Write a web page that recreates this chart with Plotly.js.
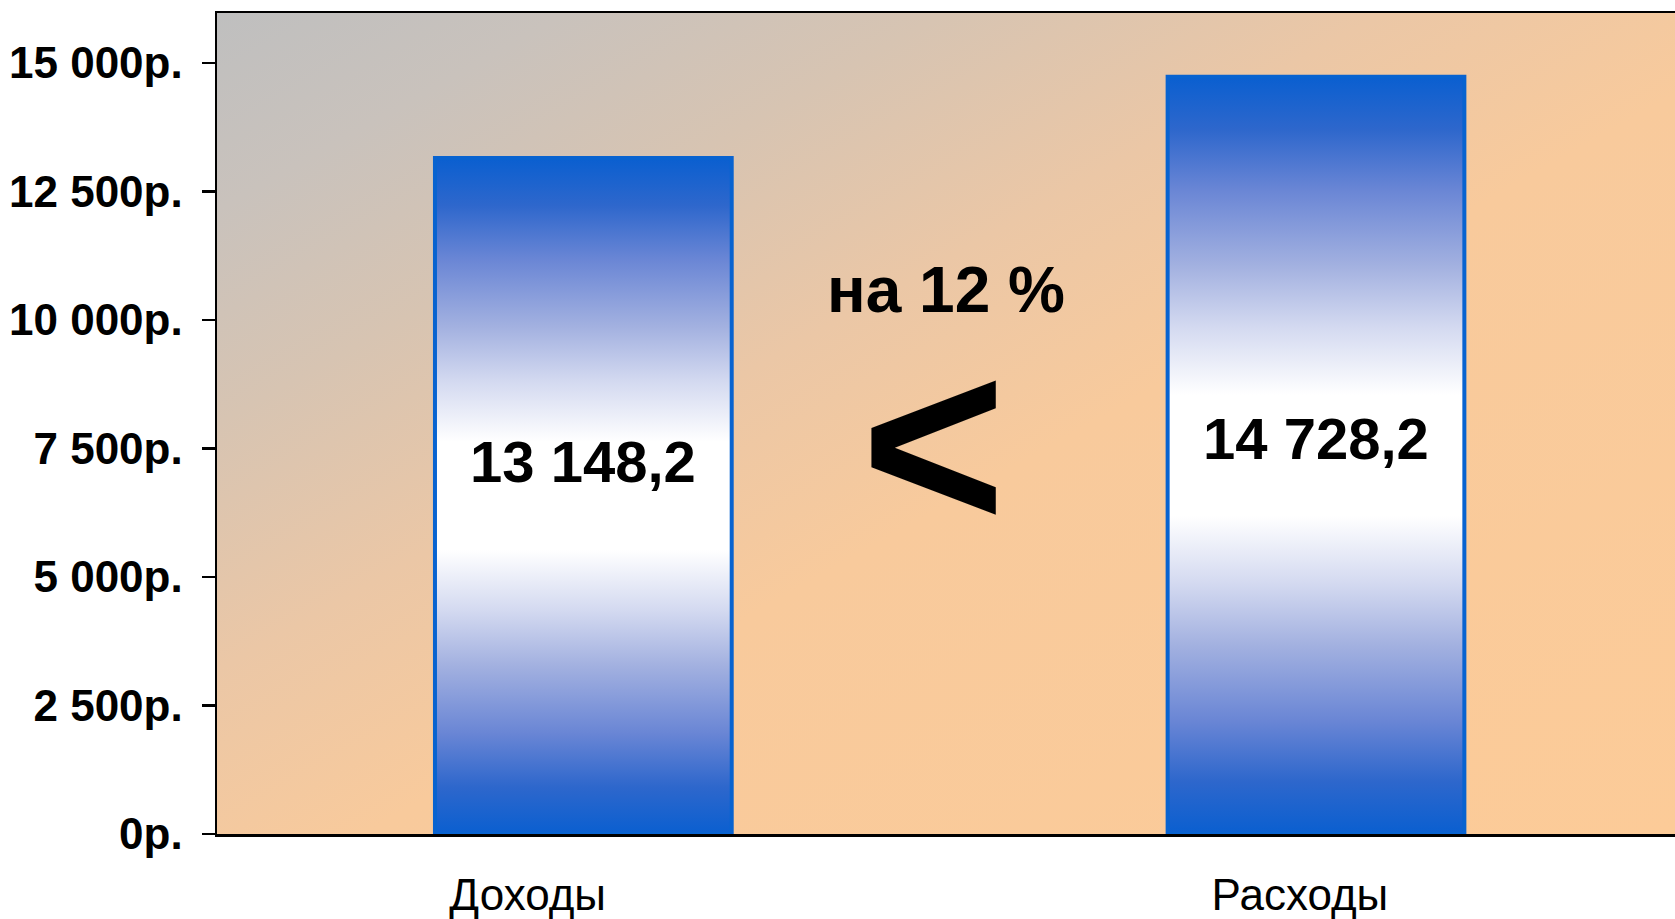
<!DOCTYPE html>
<html>
<head>
<meta charset="utf-8">
<script src="https://cdn.plot.ly/plotly-3.0.1.min.js"></script>
<style>
html, body { margin: 0; padding: 0; overflow: hidden; background: #ffffff; }
#chart { width: 1675px; height: 919px; }
</style>
</head>
<body>
<div id="chart"></div>
<script>
// ---- data ----
const categories = ['Доходы', 'Расходы'];
const values = [13148.2, 14728.2];
const valueLabels = ['13 148,2', '14 728,2'];
const yTickValues = [0, 2500, 5000, 7500, 10000, 12500, 15000];
const yTickLabels = ['0р.', '2 500р.', '5 000р.', '7 500р.', '10 000р.', '12 500р.', '15 000р.'];
const comparisonSign = '<';
const differenceLabel = 'на 12 %';

// ---- style ----
const FONT = 'Liberation Sans, Arial, sans-serif';
const BLUE = '#0863d0';
const BAR_W = 0.405;
const catLabelOffset = [-0.076, -0.022];
const valueLabelShift = [35, 17];
const barScale = [
  [0.00, '#0a5fd0'], [0.07, '#2e67cc'], [0.15, '#6a86d5'], [0.25, '#a3b1e0'],
  [0.33, '#d3d9f0'], [0.42, '#ffffff'], [0.58, '#ffffff'], [0.67, '#d3d9f0'],
  [0.75, '#a3b1e0'], [0.85, '#6a86d5'], [0.93, '#2e67cc'], [1.00, '#0a5fd0']
];

const bgSvg = "<svg xmlns='http://www.w3.org/2000/svg' width='1458' height='821' viewBox='0 0 1458 821' preserveAspectRatio='none'>" +
  "<defs><linearGradient id='g' x1='0' y1='0' x2='1' y2='1'>" +
  "<stop offset='0' stop-color='#bfbfbf'/>" +
  "<stop offset='0.12' stop-color='#c9c2bc'/>" +
  "<stop offset='0.25' stop-color='#d7c4b2'/>" +
  "<stop offset='0.4' stop-color='#ebc7a6'/>" +
  "<stop offset='0.55' stop-color='#f8ca9c'/>" +
  "<stop offset='1' stop-color='#fccb98'/>" +
  "</linearGradient></defs><rect x='0' y='0' width='1458' height='821' fill='url(#g)'/></svg>";
const bgUri = 'data:image/svg+xml;charset=utf-8,' + encodeURIComponent(bgSvg);

const xPos = categories.map((c, i) => i);

const traces = [{
  type: 'bar',
  x: xPos,
  y: values,
  width: BAR_W,
  marker: { color: BLUE, line: { color: BLUE, width: 0 } },
  hoverinfo: 'skip',
  showlegend: false
}];

xPos.forEach((p, i) => {
  const l = p - BAR_W / 2, r = p + BAR_W / 2;
  traces.push({
    type: 'scatter',
    mode: 'lines',
    x: [l, l, r, r, l],
    y: [0, values[i], values[i], 0, 0],
    fill: 'toself',
    fillgradient: { type: 'vertical', colorscale: barScale },
    line: { color: BLUE, width: 4, shape: 'linear' },
    hoverinfo: 'skip',
    showlegend: false
  });
});

const annotations = xPos.map((p, i) => ({
  x: p, y: values[i] / 2, xref: 'x', yref: 'y',
  text: valueLabels[i], showarrow: false,
  xanchor: 'center', yanchor: 'middle', yshift: valueLabelShift[i],
  font: { family: FONT, size: 58, color: '#000000', weight: 'bold' }
}));
annotations.push({
  x: 0.495, y: 10584, xref: 'x', yref: 'y', text: differenceLabel, showarrow: false,
  xanchor: 'center', yanchor: 'middle',
  font: { family: FONT, size: 64, color: '#000000', weight: 'bold' }
});
annotations.push({
  x: 0.4785, y: 7588, xref: 'x', yref: 'y', text: comparisonSign, showarrow: false,
  xanchor: 'center', yanchor: 'middle', height: 170,
  font: { family: FONT, size: 248, color: '#000000', weight: 'bold' }
});

const layout = {
  width: 1675,
  height: 919,
  margin: { l: 217, r: 0, t: 13, b: 85, pad: 0 },
  paper_bgcolor: '#ffffff',
  plot_bgcolor: 'rgba(0,0,0,0)',
  showlegend: false,
  images: [{
    source: bgUri, xref: 'paper', yref: 'paper', x: 0, y: 1, sizex: 1, sizey: 1,
    xanchor: 'left', yanchor: 'top', sizing: 'stretch', layer: 'below'
  }],
  xaxis: {
    type: 'linear',
    range: [-0.5, 1.49],
    tickvals: xPos.map((p, i) => p + catLabelOffset[i]),
    ticktext: categories,
    ticks: '',
    ticklabelstandoff: 21,
    tickfont: { family: FONT, size: 44, color: '#000000' },
    showline: true, linecolor: '#000000', linewidth: 2.5, mirror: true,
    showgrid: false, zeroline: false, layer: 'below traces', fixedrange: true
  },
  yaxis: {
    range: [0, 15970],
    tickvals: yTickValues,
    ticktext: yTickLabels,
    ticks: 'outside', ticklen: 13, tickwidth: 2.5, tickcolor: '#000000',
    ticklabelstandoff: 10,
    tickfont: { family: FONT, size: 44, color: '#000000', weight: 'bold' },
    showline: true, linecolor: '#000000', linewidth: 2.5, mirror: false,
    showgrid: false, zeroline: false, layer: 'below traces', fixedrange: true
  },
  annotations: annotations
};

Plotly.newPlot('chart', traces, layout, { displayModeBar: false, staticPlot: true });
</script>
</body>
</html>
